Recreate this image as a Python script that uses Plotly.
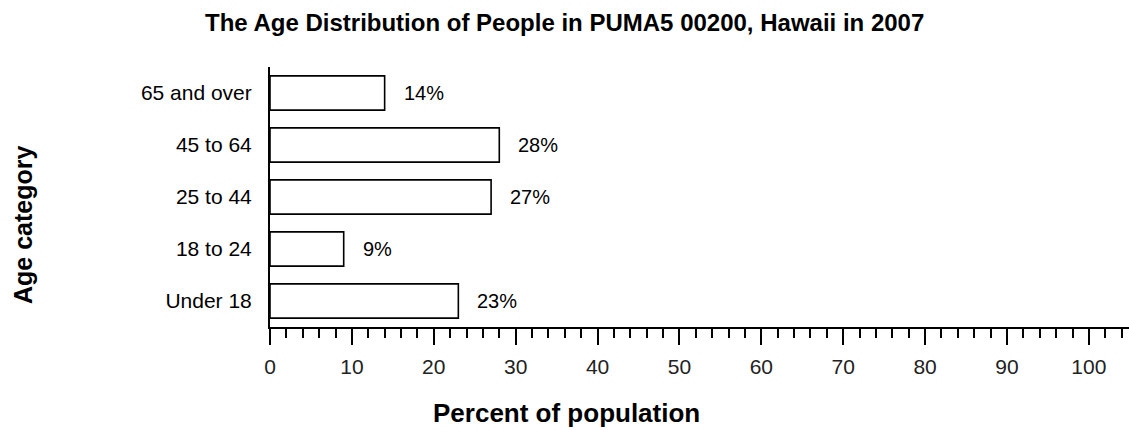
import plotly.graph_objects as go

categories = ["Under 18", "18 to 24", "25 to 44", "45 to 64", "65 and over"]
percents = [23, 9, 27, 28, 14]
labels = ["23%", "9%", "27%", "28%", "14%"]
x_ticks = [0, 10, 20, 30, 40, 50, 60, 70, 80, 90, 100]

FONT = "Liberation Sans, Arial, sans-serif"

fig = go.Figure()
fig.add_trace(go.Bar(
    y=categories, x=percents, orientation="h",
    marker=dict(color="white", line=dict(color="black", width=1.6)),
    width=0.66, hoverinfo="skip",
))

for c, v, t in zip(categories, percents, labels):
    fig.add_annotation(x=v, y=c, text=t, showarrow=False, xanchor="left",
                       yanchor="middle", xshift=17,
                       font=dict(family=FONT, size=20, color="black"))

fig.add_annotation(text="<b>The Age Distribution of People in PUMA5 00200, Hawaii in 2007</b>",
                   xref="paper", yref="paper", x=0, y=1, xanchor="center", yanchor="middle",
                   xshift=294, yshift=45, showarrow=False,
                   font=dict(family=FONT, size=24, color="black"))
fig.add_annotation(text="<b>Percent of population</b>",
                   xref="paper", yref="paper", x=0, y=0, xanchor="center", yanchor="middle",
                   xshift=296, yshift=-86, showarrow=False,
                   font=dict(family=FONT, size=26, color="black"))
fig.add_annotation(text="<b>Age category</b>", textangle=-90,
                   xref="paper", yref="paper", x=0, y=0.5, xanchor="center", yanchor="middle",
                   xshift=-247, yshift=-28, showarrow=False,
                   font=dict(family=FONT, size=25, color="black"))

fig.update_layout(
    width=1129, height=430,
    margin=dict(l=270, r=0, t=67, b=103, autoexpand=False),
    paper_bgcolor="white", plot_bgcolor="white",
    showlegend=False,
    bargap=0.34,
)
fig.update_xaxes(
    automargin=False,
    range=[0, 104.9], tickvals=x_ticks, ticks="outside", ticklen=16, tickwidth=1.5,
    tickcolor="black", showline=True, linecolor="black", linewidth=2,
    showgrid=False, zeroline=False, ticklabelstandoff=4,
    tickfont=dict(family=FONT, size=21, color="#222"),
    minor=dict(dtick=2, ticks="outside", ticklen=9, tickwidth=1.5, tickcolor="black", showgrid=False),
)
fig.update_yaxes(
    automargin=False,
    range=[-0.5, 4.5], showline=True, linecolor="black", linewidth=2,
    showgrid=False, zeroline=False, ticks="", ticklabelstandoff=12,
    tickfont=dict(family=FONT, size=21, color="black"),
)

fig.write_html("out.html", config={"displayModeBar": False},
               post_script="document.body.style.margin='0';document.body.style.overflow='hidden';")
